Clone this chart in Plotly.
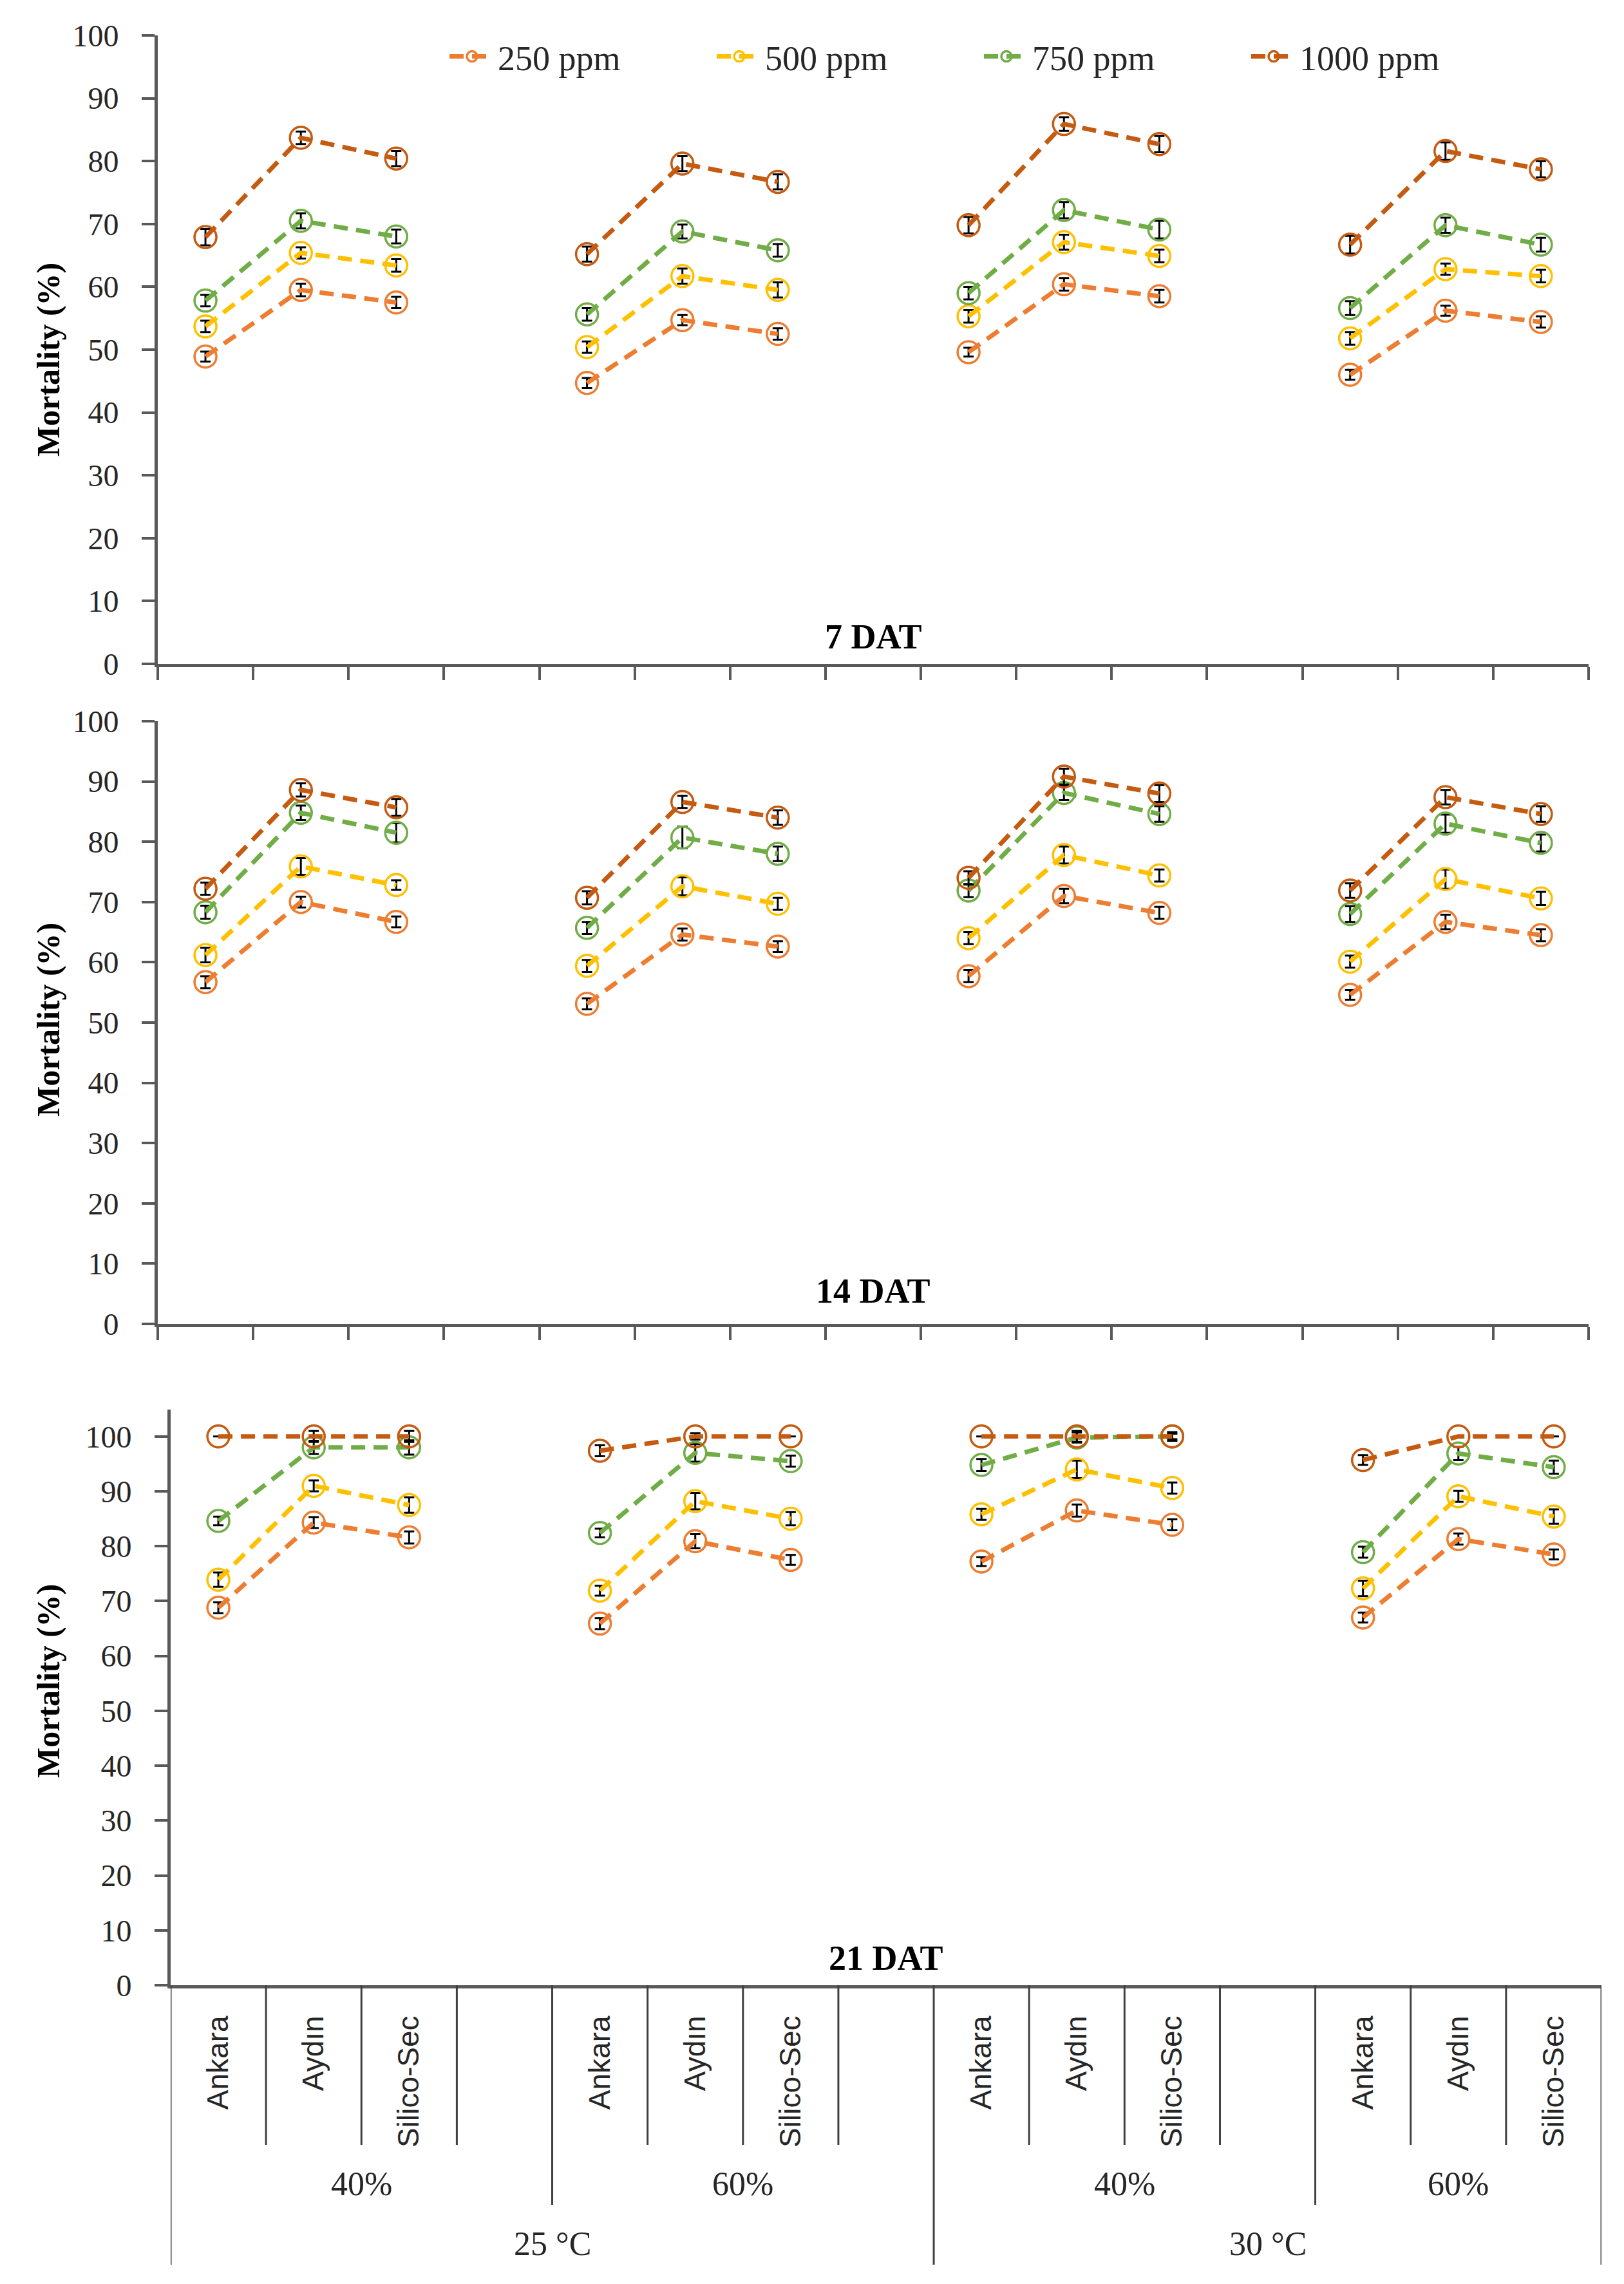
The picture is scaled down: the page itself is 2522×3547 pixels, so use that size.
import plotly.graph_objects as go

# ---------------- data ----------------
categories = ["Ankara", "Aydın", "Silico-Sec", "",
              "Ankara", "Aydın", "Silico-Sec", "",
              "Ankara", "Aydın", "Silico-Sec", "",
              "Ankara", "Aydın", "Silico-Sec"]
humidity_labels = ["40%", "60%", "40%", "60%"]
temperature_labels = ["25 °C", "30 °C"]
series_names = ["250 ppm", "500 ppm", "750 ppm", "1000 ppm"]
panel_titles = ["7 DAT", "14 DAT", "21 DAT"]
y_ticks = [0, 10, 20, 30, 40, 50, 60, 70, 80, 90, 100]

# 7 DAT
d7_250 = [48.9, 59.5, 57.5, None, 44.7, 54.7, 52.5, None, 49.6, 60.4, 58.5, None, 46.0, 56.2, 54.4]
d7_500 = [53.7, 65.4, 63.4, None, 50.4, 61.7, 59.5, None, 55.3, 67.1, 64.9, None, 51.8, 62.8, 61.7]
d7_750 = [57.8, 70.5, 68.0, None, 55.6, 68.8, 65.8, None, 59.0, 72.2, 69.1, None, 56.6, 69.8, 66.7]
d7_1000 = [67.9, 83.7, 80.4, None, 65.2, 79.6, 76.7, None, 69.8, 85.9, 82.7, None, 66.7, 81.6, 78.7]
e7_250 = [0.8, 1.0, 0.9, None, 0.8, 0.8, 0.9, None, 0.7, 1.0, 1.0, None, 0.8, 0.8, 0.9]
e7_500 = [0.9, 0.9, 1.0, None, 0.9, 1.2, 1.2, None, 1.0, 1.2, 1.0, None, 1.0, 0.9, 1.0]
e7_750 = [0.9, 1.2, 1.1, None, 1.0, 1.1, 1.0, None, 1.0, 1.3, 1.4, None, 1.1, 1.2, 1.1]
e7_1000 = [1.3, 1.0, 1.2, None, 1.2, 1.2, 1.2, None, 1.3, 1.1, 1.3, None, 1.4, 1.4, 1.3]

# 14 DAT
d14_250 = [56.7, 70.0, 66.7, None, 53.1, 64.6, 62.6, None, 57.7, 71.0, 68.2, None, 54.6, 66.7, 64.5]
d14_500 = [61.2, 75.9, 72.8, None, 59.4, 72.6, 69.7, None, 64.0, 77.8, 74.4, None, 60.1, 73.8, 70.6]
d14_750 = [68.3, 84.8, 81.5, None, 65.7, 80.7, 78.0, None, 71.9, 88.1, 84.6, None, 68.0, 83.0, 79.8]
d14_1000 = [72.2, 88.6, 85.7, None, 70.7, 86.6, 84.0, None, 74.0, 90.8, 88.0, None, 71.9, 87.4, 84.6]
e14_250 = [1.0, 0.9, 0.9, None, 0.9, 1.0, 0.9, None, 1.0, 1.2, 1.0, None, 0.8, 1.2, 1.0]
e14_500 = [1.2, 1.4, 0.8, None, 1.0, 1.5, 1.0, None, 1.0, 1.4, 1.0, None, 1.0, 1.6, 1.1]
e14_750 = [1.1, 1.2, 1.6, None, 1.0, 1.8, 1.2, None, 1.1, 1.2, 1.3, None, 1.3, 1.5, 1.4]
e14_1000 = [1.0, 1.1, 1.4, None, 1.1, 1.0, 1.2, None, 1.1, 1.3, 1.4, None, 1.2, 1.2, 1.3]

# 21 DAT
d21_250 = [68.8, 84.3, 81.6, None, 65.9, 80.9, 77.5, None, 77.2, 86.5, 83.9, None, 67.0, 81.3, 78.5]
d21_500 = [73.9, 91.0, 87.5, None, 71.9, 88.2, 85.0, None, 85.8, 94.0, 90.6, None, 72.3, 89.1, 85.4]
d21_750 = [84.6, 98.0, 98.0, None, 82.4, 97.0, 95.5, None, 94.8, 99.8, 100.0, None, 78.9, 96.9, 94.4]
d21_1000 = [100.0, 100.0, 100.0, None, 97.4, 100.0, 100.0, None, 100.0, 100.0, 100.0, None, 95.7, 100.0, 100.0]
e21_250 = [1.0, 1.0, 1.1, None, 1.0, 1.3, 0.9, None, 0.8, 1.1, 1.0, None, 0.9, 1.0, 0.9]
e21_500 = [1.3, 1.0, 1.4, None, 0.9, 1.5, 1.2, None, 1.0, 1.6, 1.0, None, 1.4, 1.0, 1.3]
e21_750 = [0.8, 1.2, 1.3, None, 0.8, 1.6, 1.0, None, 1.1, 0.9, 0.5, None, 1.0, 1.2, 1.2]
e21_1000 = [0.0, 1.0, 1.0, None, 1.0, 0.6, 0.0, None, 0.0, 1.0, 0.8, None, 0.9, 0.0, 0.0]

# ---------------- styling ----------------
colors = ["#ED7D31", "#FFC000", "#70AD47", "#C55A11"]
W, H = 2522, 3547
SERIF = "Liberation Serif, Times New Roman, serif"
SANS = "Liberation Sans, Arial, sans-serif"
AXIS_COL = "#595959"
TEXT_COL = "#262626"

def px_x(p):
    return p / W

def px_y(p):
    return 1 - p / H

panels = [
    dict(vals=[d7_250, d7_500, d7_750, d7_1000], errs=[e7_250, e7_500, e7_750, e7_1000],
         xdom=[px_x(237), px_x(2459)], ydom=[px_y(1023), px_y(47)], yr=[0, 100],
         title_y=px_y(981), ytitle_y=px_y(551)),
    dict(vals=[d14_250, d14_500, d14_750, d14_1000], errs=[e14_250, e14_500, e14_750, e14_1000],
         xdom=[px_x(237), px_x(2459)], ydom=[px_y(2048), px_y(1112)], yr=[0, 100],
         title_y=px_y(1997), ytitle_y=px_y(1576)),
    dict(vals=[d21_250, d21_500, d21_750, d21_1000], errs=[e21_250, e21_500, e21_750, e21_1000],
         xdom=[px_x(257), px_x(2479)], ydom=[px_y(3075), px_y(2181)], yr=[0, 104.9],
         title_y=px_y(3033), ytitle_y=px_y(2603)),
]

x_pos = list(range(len(categories)))
n = len(categories)

fig = go.Figure()
layout = dict(
    width=W, height=H, template="none",
    paper_bgcolor="white", plot_bgcolor="white",
    margin=dict(l=0, r=0, t=0, b=0),
    showlegend=True,
    legend=dict(orientation="h", x=px_x(685), xanchor="left", y=px_y(80), yanchor="middle",
                font=dict(family=SERIF, size=54, color=TEXT_COL),
                entrywidth=330, entrywidthmode="pixels", itemwidth=70,
                bgcolor="rgba(0,0,0,0)"),
    annotations=[], shapes=[],
)

boundaries = [k - 0.5 for k in range(n + 1)]

for pi, p in enumerate(panels):
    ax = "" if pi == 0 else str(pi + 1)
    for si in range(4):
        fig.add_trace(go.Scatter(
            x=x_pos, y=p["vals"][si], name=series_names[si],
            mode="lines+markers", connectgaps=False,
            line=dict(color=colors[si], width=7, dash="22px,13px"),
            marker=dict(symbol="circle-open", size=34, color=colors[si], line=dict(width=3.5, color=colors[si])),
            error_y=dict(type="data", array=p["errs"][si], visible=True, color="black", thickness=3, width=8),
            xaxis="x" + ax, yaxis="y" + ax,
            legendgroup=series_names[si], showlegend=(pi == 0),
        ))
    last = pi == 2
    xa = dict(domain=p["xdom"], range=[-0.5, n - 0.5], anchor="y" + ax,
              showline=True, linecolor=AXIS_COL, linewidth=5, showgrid=False, zeroline=False,
              automargin=False, fixedrange=True)
    if not last:
        xa.update(tickmode="array", tickvals=boundaries, ticktext=[""] * len(boundaries),
                  ticks="outside", ticklen=20, tickwidth=4, tickcolor=AXIS_COL)
    else:
        lab_pos = [i for i in x_pos if categories[i]]
        xa.update(tickmode="array", tickvals=lab_pos, ticktext=[categories[i] for i in lab_pos],
                  ticks="", tickangle=-90, ticklabelstandoff=24,
                  tickfont=dict(family=SANS, size=46, color=TEXT_COL))
    ya = dict(domain=p["ydom"], range=p["yr"], anchor="x" + ax,
              tickmode="array", tickvals=y_ticks, ticks="outside", ticklen=20, tickwidth=4,
              tickcolor=AXIS_COL, showline=True, linecolor=AXIS_COL, linewidth=5,
              showgrid=False, zeroline=False, automargin=False, ticklabelstandoff=26,
              tickfont=dict(family=SERIF, size=48, color=TEXT_COL), fixedrange=True)
    layout["xaxis" + ax] = xa
    layout["yaxis" + ax] = ya
    layout["annotations"].append(dict(
        text="<b>%s</b>" % panel_titles[pi], xref="x%s domain" % ax, x=0.5, yref="paper", y=p["title_y"],
        xanchor="center", yanchor="middle", showarrow=False,
        font=dict(family=SERIF, size=54, color="black")))
    layout["annotations"].append(dict(
        text="<b>Mortality (%)</b>", xref="paper", x=px_x(67), yref="paper", y=p["ytitle_y"],
        xanchor="center", yanchor="middle", textangle=-90, showarrow=False,
        font=dict(family=SERIF, size=50, color="black")))

# multi-level category axis for bottom panel
ybot = panels[2]["ydom"][0]
short_end, long_end, full_end = px_y(3323), px_y(3416), px_y(3509)
group_size = 4
temp_size = 8
for k in range(n + 1):
    if k % temp_size == 0 or k == n:
        y1 = full_end
    elif k % group_size == 0:
        y1 = long_end
    else:
        y1 = short_end
    layout["shapes"].append(dict(type="line", xref="x3", yref="paper", x0=k - 0.5, x1=k - 0.5,
                                 y0=ybot, y1=y1, line=dict(color="#404040", width=3)))

for g, lab in enumerate(humidity_labels):
    s = g * group_size
    e = min(s + group_size - 1, n - 1)
    layout["annotations"].append(dict(
        text=lab, xref="x3", x=(s - 0.5 + e + 0.5) / 2, yref="paper", y=px_y(3383),
        xanchor="center", yanchor="middle", showarrow=False,
        font=dict(family=SERIF, size=52, color=TEXT_COL)))
for t, lab in enumerate(temperature_labels):
    s = t * temp_size
    e = min(s + temp_size - 1, n - 1)
    layout["annotations"].append(dict(
        text=lab, xref="x3", x=(s - 0.5 + e + 0.5) / 2, yref="paper", y=px_y(3476),
        xanchor="center", yanchor="middle", showarrow=False,
        font=dict(family=SERIF, size=52, color=TEXT_COL)))

fig.update_layout(**layout)
fig.write_html("out.html")
